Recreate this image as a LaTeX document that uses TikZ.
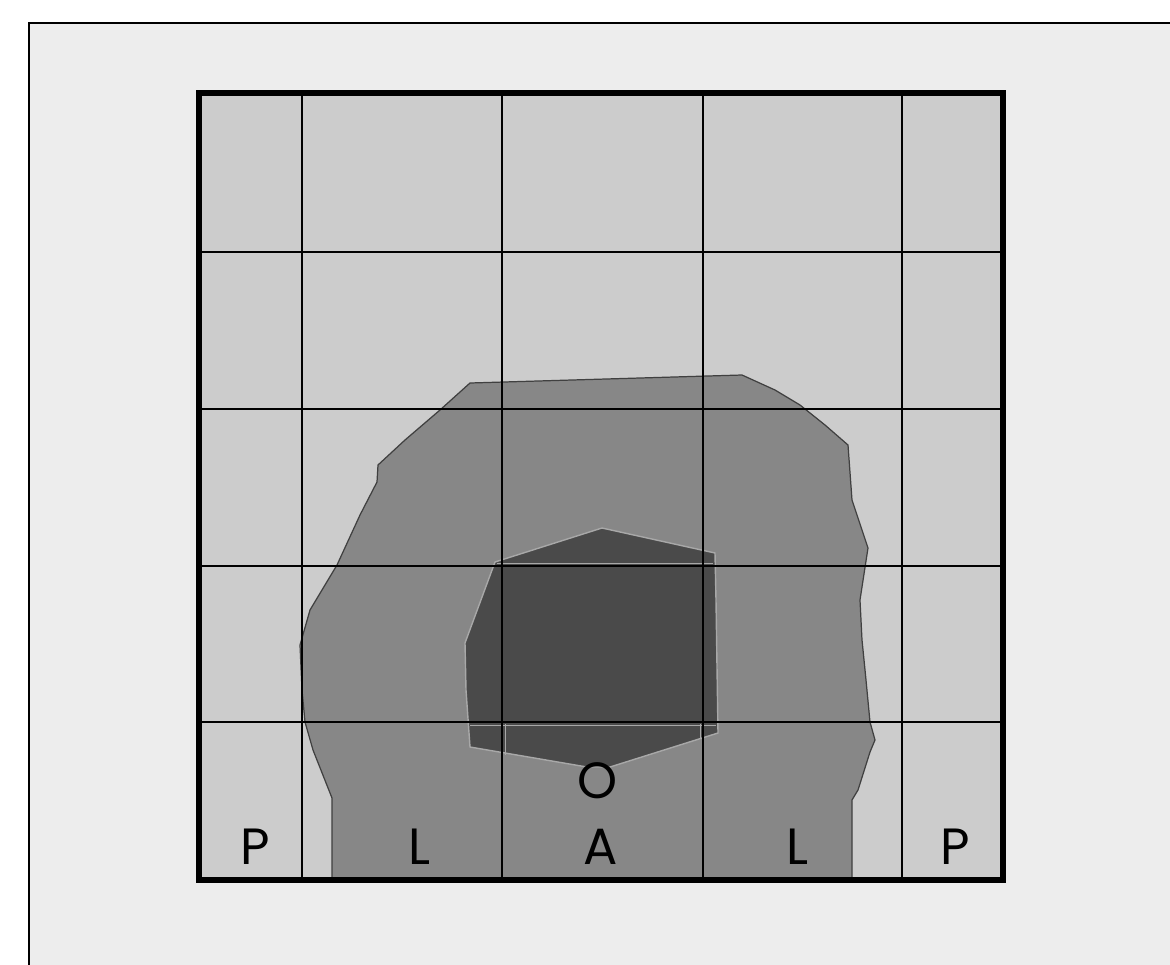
\documentclass[tikz,border=0pt]{standalone}
\usepackage{fontspec}
\setmainfont{Poppins}
\usepackage{tikz}
\definecolor{paper}{HTML}{EDEDED}
\definecolor{zonepale}{HTML}{CCCCCC}
\definecolor{zonemid}{HTML}{878787}
\definecolor{zonedark}{HTML}{4A4A4A}
\definecolor{rimpale}{HTML}{A8A8A8}

\begin{document}
\begin{tikzpicture}[x=0.02cm,y=-0.02cm,
  gridline/.style={line width=1.3pt,black},
  zonelabel/.style={font=\fontsize{29}{29}\selectfont,inner sep=0pt}]
\useasboundingbox(0,0)rectangle(1170,964);
\clip(0,0)rectangle(1170,964);
\draw[line width=1.2pt,fill=paper](29,23)rectangle(1220,1010);
\fill[zonepale](199,93)rectangle(1003,880);
% middle zone
\draw[fill=zonemid,draw=black!75,line width=0.7pt](332,880)--(332,798)--(313,750)--(305,722)--(302,690)--(300,645)
--(310,610)--(337,565)--(360,515)--(377,482)--(378,465)--(405,440)--(440,410)--(470,383)
--(742,375)--(775,390)--(800,405)--(825,425)--(848,445)--(852,500)--(868,548)--(860,600)
--(862,640)--(866,680)--(870,722)--(875,740)--(870,752)--(858,790)--(852,800)--(852,880)--cycle;
% inner zone
\draw[fill=zonedark,draw=rimpale,line width=0.8pt](602,528)--(715,553)--(716,600)--(718,733)
--(610,767)--(587,767)--(470,747)--(466,690)--(465,643)--(495,562)--cycle;
\draw[rimpale,line width=0.5pt](497,563)--(713,563)(470,725)--(716,725)
(505,724)--(505,755)(700,724)--(700,738);
\foreach \x in {302,502,703,902}
  \draw[gridline](\x,93)--(\x,880);
\foreach \y in {252,409,566,722}
  \draw[gridline](199,\y)--(1003,\y);
\draw[line width=3pt](199,93)rectangle(1003,880);
\node[zonelabel](p1) at (255,847){P};
\node[zonelabel](l1) at (420,847){L};
\node[zonelabel](a) at (601,847){A};
\node[zonelabel](l2) at (797,847){L};
\node[zonelabel](p2) at (955,847){P};
\node[zonelabel](o) at (598,781){O};
\end{tikzpicture}
\end{document}
